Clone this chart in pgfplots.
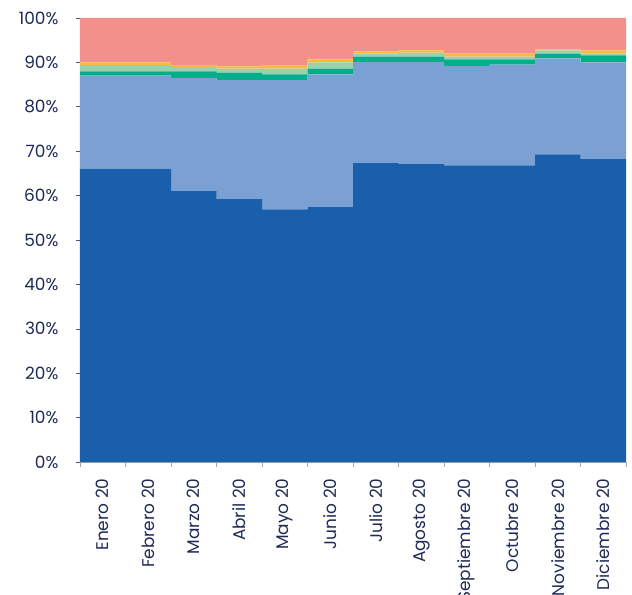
\documentclass[border=0pt]{standalone}
\usepackage{pgfplots}
\usepackage{pgfplotstable}
\usepackage{fontspec}
\setmainfont{Poppins}
\pgfplotsset{compat=1.18}

\definecolor{azul}{HTML}{1A5FAB}
\definecolor{celeste}{HTML}{7BA1D4}
\definecolor{verde}{HTML}{00AE8A}
\definecolor{verdeclaro}{HTML}{9CCFAC}
\definecolor{amarillo}{HTML}{FBB93A}
\definecolor{salmon}{HTML}{F3908C}
\definecolor{tinta}{HTML}{1F2A55}

% Reparto mensual (%), capas de abajo hacia arriba
\pgfplotstableread{
x    a     b     c    d    e    f
0.5  66.1  20.9  1.0  1.4  0.6  10.0
1.5  66.1  20.9  1.0  1.4  0.6  10.0
2.5  61.0  25.5  1.5  1.0  0.4  10.6
3.5  59.2  26.8  1.7  0.9  0.5  10.9
4.5  56.9  29.1  1.3  1.3  0.7  10.7
5.5  57.4  29.9  1.3  1.4  0.7   9.3
6.5  67.3  22.8  1.2  0.7  0.5   7.5
7.5  67.1  23.0  1.2  0.9  0.5   7.3
8.5  66.8  22.4  1.5  0.6  0.7   8.0
9.5  66.8  22.7  1.2  0.6  0.7   8.0
10.5 69.3  21.6  1.1  0.7  0.2   7.1
11.5 68.2  21.8  1.6  0.4  0.7   7.3
}\datos

\begin{document}
\begin{tikzpicture}
\begin{axis}[
  name=ax,
  scale only axis,
  width=546bp, height=444bp,
  xmin=0, xmax=12, ymin=0, ymax=100,
  ybar stacked, bar width=1,
  axis x line*=bottom, axis y line*=left,
  y axis line style={draw=none},
  x axis line style={draw=gray!70, line width=0.6pt},
  tick align=outside,
  font=\fontsize{17}{20}\selectfont,
  tick label style={text=tinta},
  /pgf/number format/assume math mode=true,
  ytick={0,10,...,100},
  yticklabel={\pgfmathprintnumber{\tick}\%},
  major y tick style={draw=tinta!80, line width=0.6pt},
  major tick length=4bp,
  yticklabel style={xshift=-14bp},
  xtick={0.5,1.5,...,11.5},
  xticklabels={Enero 20,Febrero 20,Marzo 20,Abril 20,Mayo 20,Junio 20,Julio 20,Agosto 20,Septiembre 20,Octubre 20,Noviembre 20,Diciembre 20},
  major x tick style={draw=none},
  minor xtick={0,1,...,12},
  minor x tick style={draw=gray!70, line width=0.6pt},
  minor tick length=5bp,
  xticklabel style={rotate=90, anchor=east, xshift=-9bp},
  every axis plot/.append style={draw=none},
]
\addplot[fill=azul] table[x=x, y=a] {\datos};
\addplot[fill=celeste] table[x=x, y=b] {\datos};
\addplot[fill=verde] table[x=x, y=c] {\datos};
\addplot[fill=verdeclaro] table[x=x, y=d] {\datos};
\addplot[fill=amarillo] table[x=x, y=e] {\datos};
\addplot[fill=salmon] table[x=x, y=f] {\datos};
\end{axis}
\pgfresetboundingbox
\path[use as bounding box] ([xshift=-80bp, yshift=-133bp]ax.south west) rectangle ([xshift=6bp, yshift=18bp]ax.north east);
\end{tikzpicture}
\end{document}
